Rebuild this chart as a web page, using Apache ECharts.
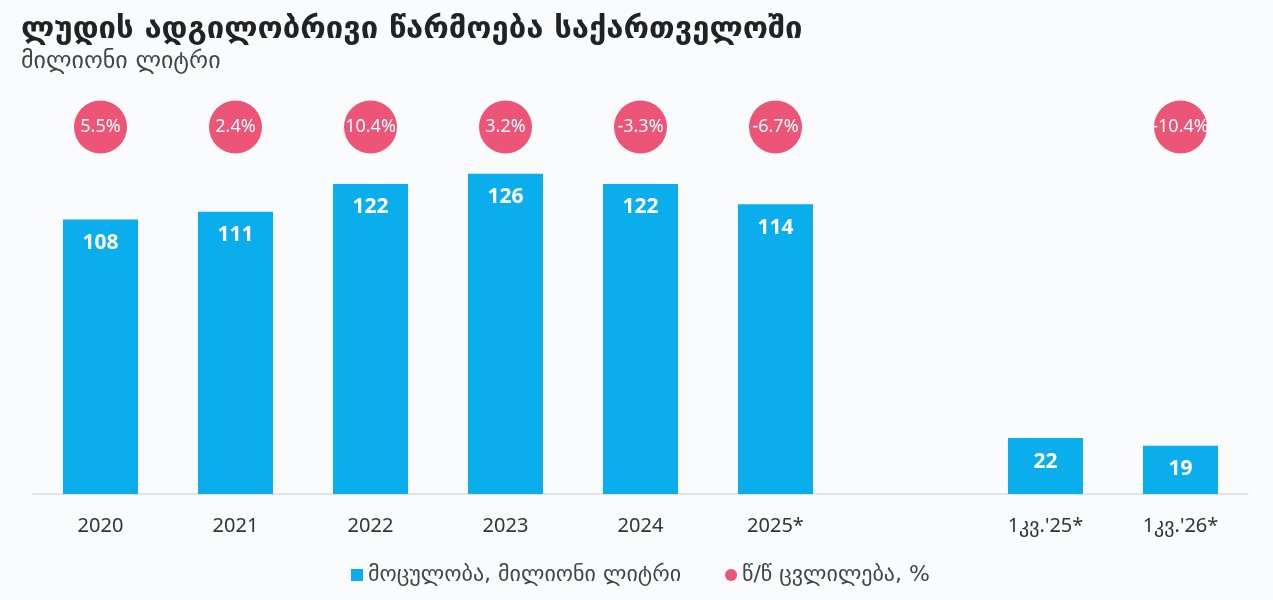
<!DOCTYPE html>
<html>
<head>
<meta charset="utf-8">
<script src="https://cdn.jsdelivr.net/npm/echarts@6/dist/echarts.min.js"></script>
<style>
html,body{margin:0;padding:0;background:#fafbfd;}
#c{width:1273px;height:600px;}
</style>
</head>
<body>
<div id="c"></div>
<script>
const categories = ['2020', '2021', '2022', '2023', '2024', '2025*', '', '1კვ.\'25*', '1კვ.\'26*'];
const volume = [108, 111, 122, 126, 122, 114, null, 22, 19];
const yoyChange = [5.5, 2.4, 10.4, 3.2, -3.3, -6.7, null, null, -10.4];
const titleText = 'ლუდის ადგილობრივი წარმოება საქართველოში';
const subtitleText = 'მილიონი ლიტრი';
const volumeName = 'მოცულობა, მილიონი ლიტრი';
const changeName = 'წ/წ ცვლილება, %';

const FONT = '"Noto Sans", "DejaVu Sans", sans-serif';
const GEO = '"DejaVu Sans", sans-serif';
const BLUE = '#0aaeec';
const PINK = '#ec5577';

const chart = echarts.init(document.getElementById('c'));
chart.setOption({
  backgroundColor: '#fafbfd',
  textStyle: { fontFamily: FONT },
  title: {
    text: titleText,
    subtext: subtitleText,
    left: 16,
    top: 9,
    itemGap: 5,
    textStyle: { fontFamily: GEO, fontWeight: 'bold', fontSize: 31, color: '#222' },
    subtextStyle: { fontFamily: GEO, fontSize: 24, color: '#444' }
  },
  legend: {
    left: 346,
    top: 559,
    itemWidth: 12,
    itemHeight: 12,
    itemGap: 44,
    textStyle: { fontFamily: GEO, fontSize: 22, color: '#444' },
    data: [
      { name: volumeName, icon: 'rect' },
      { name: changeName, icon: 'circle' }
    ]
  },
  grid: [
    { left: 33, right: 25, top: 100, bottom: 106 },
    { left: 33, right: 25, top: 101, height: 52 }
  ],
  xAxis: [
    {
      type: 'category', gridIndex: 0, data: categories,
      axisLine: { lineStyle: { color: '#dcdcdc', width: 1.5 } },
      axisTick: { show: false },
      axisLabel: { fontFamily: FONT, fontSize: 20, color: '#333', margin: 22 }
    },
    {
      type: 'category', gridIndex: 1, data: categories, show: false
    }
  ],
  yAxis: [
    { type: 'value', gridIndex: 0, min: 0, max: 155, show: false, splitLine: { show: false } },
    { type: 'category', gridIndex: 1, data: ['r'], show: false }
  ],
  series: [
    {
      name: volumeName,
      type: 'bar',
      xAxisIndex: 0, yAxisIndex: 0,
      data: volume,
      barWidth: 75,
      itemStyle: { color: BLUE },
      label: {
        show: true, position: 'insideTop', distance: 13,
        color: '#fff', fontSize: 21, fontWeight: 'bold', fontFamily: FONT
      }
    },
    {
      name: changeName,
      type: 'scatter',
      xAxisIndex: 1, yAxisIndex: 1,
      symbol: 'circle',
      symbolSize: 53,
      itemStyle: { color: PINK, opacity: 1 },
      data: yoyChange.map((v, i) => v == null ? null : [categories[i], 'r', v]),
      label: {
        show: true, position: 'inside',
        color: '#fff', fontSize: 18, fontFamily: FONT,
        formatter: p => p.value[2] + '%'
      }
    }
  ]
});
</script>
</body>
</html>
